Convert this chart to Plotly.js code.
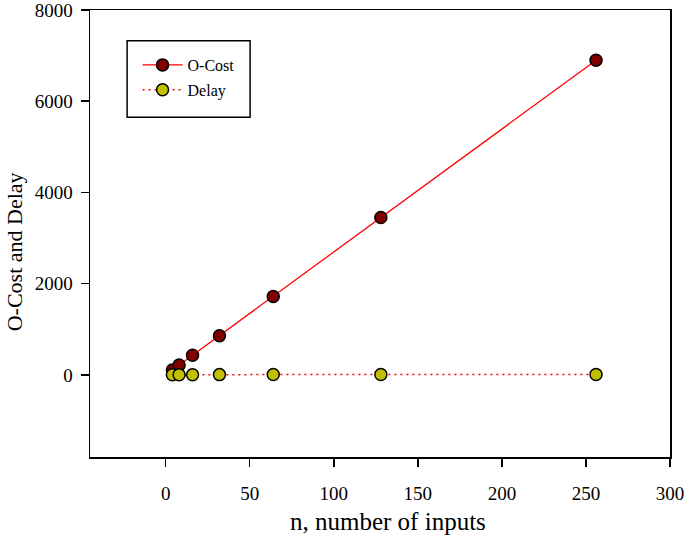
<!DOCTYPE html>
<html>
<head>
<meta charset="utf-8">
<script src="https://cdn.plot.ly/plotly-3.0.1.min.js"></script>
<style>html,body{margin:0;padding:0;background:#fff;}#chart{width:685px;height:535px;}</style>
</head>
<body>
<div id="chart"></div>
<script>
const nInputs = [4, 8, 16, 32, 64, 128, 256];
const oCost = [108, 216, 430, 860, 1720, 3450, 6900];
const delay = [3, 4, 5, 6, 7, 8, 9];
const xTicks = [0, 50, 100, 150, 200, 250, 300];
const yTicks = [0, 2000, 4000, 6000, 8000];

const font = "'Liberation Serif', 'Times New Roman', serif";

const traces = [
  {
    x: nInputs, y: oCost, name: 'O-Cost', type: 'scatter', mode: 'lines+markers',
    line: {color: '#ff0000', width: 1.3},
    marker: {size: 12, color: '#800000', line: {color: '#000', width: 1.5}},
    legendgroup: 'a'
  },
  {
    x: nInputs, y: delay, name: 'Delay', type: 'scatter', mode: 'lines+markers',
    line: {color: '#ff0000', width: 1.5, dash: '2px,4px'},
    marker: {size: 12, color: '#c0c000', line: {color: '#000', width: 1.5}},
    legendgroup: 'b'
  }
];

const layout = {
  width: 685, height: 535,
  margin: {l: 90, r: 15, t: 10, b: 78},
  paper_bgcolor: '#fff', plot_bgcolor: '#fff',
  font: {family: font, color: '#000', size: 19},
  showlegend: true,
  legend: {
    x: 0.082, y: 0.915, xanchor: 'left', yanchor: 'top',
    bgcolor: 'rgba(0,0,0,0)', borderwidth: 0,
    font: {family: font, size: 16, color: '#000'},
    traceorder: 'grouped', tracegroupgap: 1,
    itemwidth: 40
  },
  shapes: [{
    type: 'rect', xref: 'paper', yref: 'paper',
    x0: 0.064, x1: 0.276, y0: 0.76, y1: 0.931,
    line: {color: '#000', width: 1.5}, fillcolor: 'rgba(0,0,0,0)', layer: 'below'
  }],
  annotations: [
    {text: 'n, number of inputs', xref: 'paper', yref: 'paper', x: 0.513, y: -0.145,
     xanchor: 'center', yanchor: 'middle', showarrow: false,
     font: {family: font, size: 25, color: '#000'}},
    {text: 'O-Cost and Delay', xref: 'paper', yref: 'paper', x: -0.131, y: 0.458,
     xanchor: 'center', yanchor: 'middle', showarrow: false, textangle: -90,
     font: {family: font, size: 22, color: '#000'}}
  ],
  xaxis: {
    range: [-45, 300], tickvals: xTicks, ticktext: xTicks.map(String),
    showgrid: false, zeroline: false,
    showline: true, linecolor: '#000', linewidth: 1.5, mirror: true,
    ticks: 'outside', ticklen: 8, tickwidth: 1.5, tickcolor: '#000',
    ticklabelstandoff: 11, ticklabeloverflow: 'allow',
    tickfont: {family: font, size: 19}
  },
  yaxis: {
    range: [-1800, 8000], tickvals: yTicks, ticktext: yTicks.map(String),
    showgrid: false, zeroline: false,
    showline: true, linecolor: '#000', linewidth: 1.5, mirror: true,
    ticks: 'outside', ticklen: 8, tickwidth: 1.5, tickcolor: '#000',
    ticklabelstandoff: 4, ticklabeloverflow: 'allow',
    tickfont: {family: font, size: 19}
  }
};

Plotly.newPlot('chart', traces, layout, {displayModeBar: false, staticPlot: true});
</script>
</body>
</html>
